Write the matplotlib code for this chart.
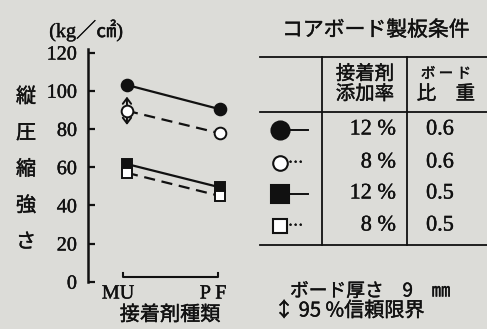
import matplotlib
matplotlib.use("Agg")
from matplotlib import pyplot as plt
import matplotlib.patheffects as pe

# data
adhesives = ["MU", "P F"]
rate_labels = ["12 %", "8 %", "12 %", "8 %"]
density_labels = ["0.6", "0.6", "0.5", "0.5"]
strength = [
    [103.0, 90.3],   # 12 %, 0.6
    [89.5, 77.7],    # 8 %, 0.6
    [61.6, 49.4],    # 12 %, 0.5
    [57.0, 44.9],    # 8 %, 0.5
]
ci_series = 1
ci_mu = 7.4
yticks = [0, 20, 40, 60, 80, 100, 120]

markers = ["o", "o", "s", "s"]
filled = [True, False, True, False]
styles = ["-", (0, (5, 3)), "-", (0, (5, 3))]

W, H = 487, 329
bg = "#dcdcd8"
ink = "#111111"
serif_jp = ["Liberation Serif", "Noto Sans CJK JP"]
jp = ["Noto Sans CJK JP", "DejaVu Sans"]
# a light stroke so the type reads like print
thick = [pe.withStroke(linewidth=0.3, foreground=ink)]

fig = plt.figure(figsize=(W / 100, H / 100), dpi=100, facecolor=bg)

# main axes, placed in pixel terms
x0, x1, ytop, ybot = 88, 250, 48.7, 281.7
ax = fig.add_axes([x0 / W, 1 - ybot / H, (x1 - x0) / W, (ybot - ytop) / H])
ax.set_facecolor("none")
ax.set_xlim(-0.419, 1.323)
ax.set_ylim(0, 122)

for i, vals in enumerate(strength):
    ax.plot([0, 1], vals, color=ink, lw=1.6, linestyle=styles[i],
            marker=markers[i], ms=8.4 if markers[i] == "o" else 7.2,
            mfc=ink if filled[i] else "white", mec=ink, mew=1.4, zorder=3)

# confidence interval arrow
mid = strength[ci_series][0]
ax.annotate("", xy=(0, mid + ci_mu), xytext=(0, mid - ci_mu),
            arrowprops=dict(arrowstyle="<->,head_length=0.4,head_width=0.3",
                            lw=1.4, color=ink, shrinkA=0, shrinkB=0), zorder=2)

for s in ["top", "right", "bottom"]:
    ax.spines[s].set_visible(False)
ax.spines["left"].set_linewidth(1.8)
ax.spines["left"].set_color(ink)
ax.set_yticks(yticks)
ax.set_yticklabels([str(t) for t in yticks], fontsize=14.5,
                   family=serif_jp, color=ink, path_effects=thick)
ax.tick_params(axis="y", direction="in", length=5, width=1.6, pad=8, colors=ink)
ax.set_xticks([])

# bracket under the two adhesive types
ax.plot([-0.04, -0.04, 0.98, 0.98], [4.8, 2.4, 2.4, 4.8], color=ink,
        lw=1.5, clip_on=False)

# overlay in pixel coordinates for labels and the condition table
ov = fig.add_axes([0, 0, 1, 1])
ov.set_xlim(0, W)
ov.set_ylim(H, 0)
ov.axis("off")
ov.patch.set_alpha(0)


def label(x, y, s, size, family=jp, ha="center"):
    ov.text(x, y, s, fontsize=size, family=family, ha=ha, va="center",
            color=ink, path_effects=thick)


label(118, 294, adhesives[0], 14.5, serif_jp)
label(213, 294, adhesives[1], 14.5, serif_jp)
label(170, 315, "接着剤種類", 14.5)
label(86, 31, "(kg／㎠)", 14.5, serif_jp)
for k, ch in enumerate("縦圧縮強さ"):
    label(26, 97 + k * 36.3, ch, 14.5)

# condition table
label(376, 30, "コアボード製板条件", 15)
for yy in [57, 112, 245]:
    ov.plot([260, W], [yy, yy], color=ink, lw=1.3)
for xx in [322, 407]:
    ov.plot([xx, xx], [57, 245], color=ink, lw=1.3)
label(365, 74, "接着剤", 14)
label(365, 94, "添加率", 14)
label(446, 74, "ボ ー ド", 10.5)
label(446, 94, "比　重", 14)

row_y = [130, 163, 194, 226]
for i in range(4):
    yy = row_y[i]
    if filled[i]:
        ov.plot([281, 308], [yy, yy], color=ink, lw=1.4)
    else:
        label(288, yy, "…", 11, ha="left")
    ov.plot([280], [yy], marker=markers[i], ms=13 if filled[i] else 10.5,
            mfc=ink if filled[i] else "white", mec=ink, mew=1.5)
    label(396, yy, rate_labels[i], 16, serif_jp, ha="right")
    label(440, yy, density_labels[i], 16, serif_jp)

label(290, 291, "ボード厚さ　9　㎜", 13.5, ha="left")
label(274, 311, "↕ 95 %信頼限界", 14.5, ha="left")

fig.savefig("out.png", dpi=100, facecolor=bg)
